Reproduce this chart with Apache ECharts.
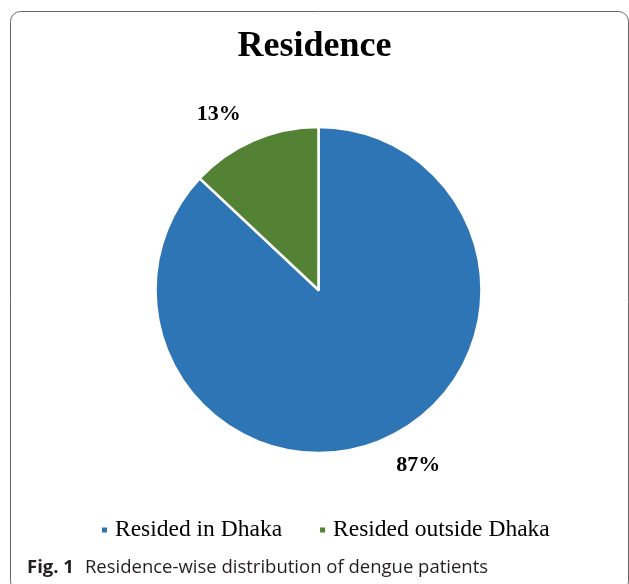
<!DOCTYPE html>
<html>
<head>
<meta charset="utf-8">
<script src="https://cdn.jsdelivr.net/npm/echarts@6/dist/echarts.min.js"></script>
<style>
html,body{margin:0;padding:0;background:#fff;}
#c{width:629px;height:584px;}
</style>
</head>
<body>
<div id="c"></div>
<script>
const titleText = "Residence";
const categories = ["Resided in Dhaka", "Resided outside Dhaka"];
const values = [87, 13];
const colors = ["#2E75B6", "#548235"];
const captionBold = "Fig. 1";
const captionText = "Residence-wise distribution of dengue patients";

const chart = echarts.init(document.getElementById('c'), null, {renderer: 'canvas'});
chart.setOption({
  animation: false,
  color: colors,
  title: [{
    text: titleText,
    left: 'center',
    top: 24,
    textStyle: {fontFamily: 'Liberation Serif', fontWeight: 'bold', fontSize: 36, color: '#000'}
  }, {
    text: '{b|' + captionBold + '}{s| }{n|' + captionText + '}',
    left: 22,
    top: 553,
    textStyle: {
      fontWeight: 'normal',
      rich: {
        b: {fontFamily: 'Open Sans', fontWeight: 'bold', fontSize: 18.5, color: '#231f20'},
        s: {fontFamily: 'Open Sans', fontWeight: 'normal', fontSize: 18.5, width: 11},
        n: {fontFamily: 'Open Sans', fontWeight: 'normal', fontSize: 18.5, color: '#231f20'}
      }
    }
  }],
  graphic: [{
    type: 'rect',
    shape: {x: 10.5, y: 11.5, width: 618, height: 580, r: 10},
    style: {fill: 'none', stroke: '#666', lineWidth: 1},
    silent: true,
    z: -1
  }],
  legend: {
    data: categories,
    top: 513,
    left: 95,
    icon: 'rect',
    itemWidth: 7,
    itemHeight: 7,
    itemGap: 36,
    textStyle: {fontFamily: 'Liberation Serif', fontSize: 23.5, color: '#000', padding: [0, 0, 0, 2]}
  },
  series: [{
    type: 'pie',
    center: [318.5, 290],
    radius: 163,
    startAngle: 90,
    clockwise: true,
    data: categories.map((n, i) => ({name: n, value: values[i]})),
    itemStyle: {borderColor: '#fff', borderWidth: 2.5},
    label: {
      show: true,
      position: 'outside',
      formatter: '{d}%',
      fontFamily: 'Liberation Serif',
      fontWeight: 'bold',
      fontSize: 22,
      color: '#000',
      distanceToLabelLine: 0
    },
    labelLine: {show: false, length: 28, length2: 2},
    emphasis: {disabled: true}
  }]
});
</script>
</body>
</html>
